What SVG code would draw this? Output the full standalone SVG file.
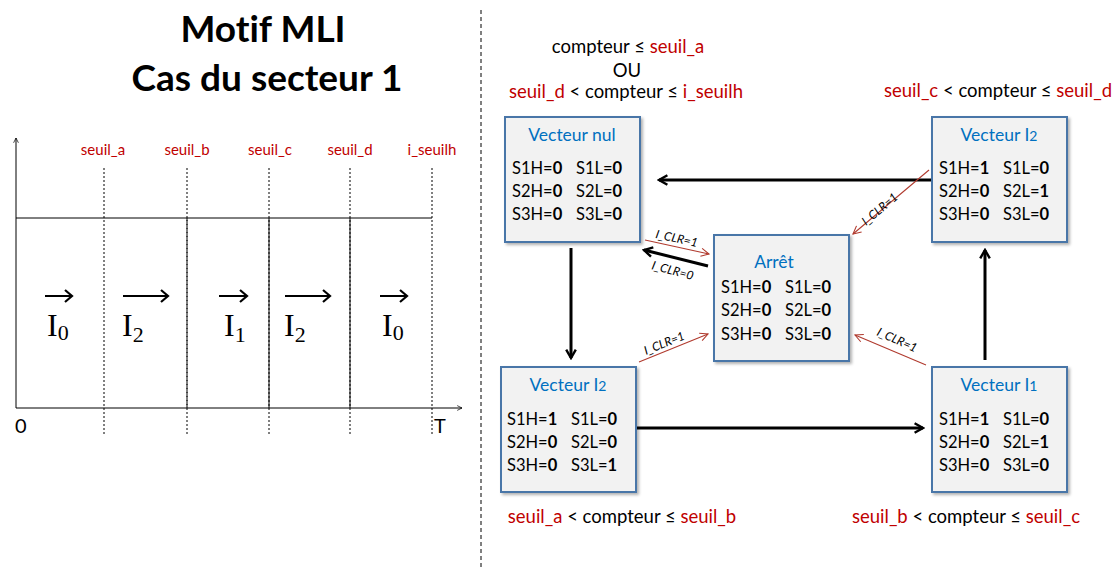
<svg xmlns="http://www.w3.org/2000/svg" width="1120" height="568" viewBox="0 0 1120 568">
<defs>
<marker id="ah" viewBox="0 0 10 10" refX="8" refY="5" markerWidth="4" markerHeight="4" orient="auto" markerUnits="strokeWidth"><path d="M1,1 L8,5 L1,9" fill="none" stroke="#000" stroke-width="2"/></marker>
<marker id="ar" viewBox="0 0 10 10" refX="9" refY="5" markerWidth="9" markerHeight="9" orient="auto" markerUnits="strokeWidth"><path d="M1,1 L9,5 L1,9" fill="none" stroke="#b03a2e" stroke-width="1.1"/></marker>
<marker id="ax" viewBox="0 0 10 10" refX="9" refY="5" markerWidth="6" markerHeight="6" orient="auto"><path d="M1,1 L9,5 L1,9" fill="none" stroke="#000" stroke-width="1.2"/></marker>
<filter id="sh" x="-10%" y="-10%" width="130%" height="130%"><feDropShadow dx="2" dy="2" stdDeviation="1.5" flood-color="#000" flood-opacity="0.3"/></filter>
</defs>
<style>
text{font-family:Lato,"Open Sans","Liberation Sans",sans-serif;fill:#000;font-variant-ligatures:none}
.t{font-size:37px;font-weight:bold;text-anchor:middle}
.sl{font-size:15px;fill:#c00000;text-anchor:middle}
.ax{font-size:20px}
.v{font-family:"Liberation Serif",serif;font-size:32px}
.vs{font-family:"Liberation Serif",serif;font-size:22px}
.box{fill:#f2f2f2;stroke:#4a76a8;stroke-width:2;filter:url(#sh)}
.bt{font-size:17.5px;fill:#0070c0;text-anchor:middle}
.r{font-size:16.5px}
.r tspan.b{font-weight:bold}
.c{font-size:18.5px;text-anchor:middle}
.red{fill:#c00000}
.lbl{font-size:12px;font-style:italic}
.dot{stroke:#000;stroke-width:1;stroke-dasharray:2,2;fill:none}
.ln{stroke:#000;stroke-width:1;fill:none}
.big{stroke:#000;stroke-width:3;fill:none;marker-end:url(#ah)}
.rc{stroke:#b03a2e;stroke-width:1.1;fill:none;marker-end:url(#ar)}
</style>

<!-- left panel -->
<g id="titre">
<text class="t" x="263" y="42">Motif MLI</text>
<text class="t" x="267" y="91">Cas du secteur 1</text>
</g>
<line x1="481" y1="10" x2="481" y2="568" stroke="#000" stroke-width="1" stroke-dasharray="4,3"/>

<g id="chronogramme">
<line class="ln" x1="16" y1="408" x2="16" y2="138" marker-end="url(#ax)"/>
<line class="ln" x1="16" y1="408" x2="462" y2="408" marker-end="url(#ax)"/>
<line class="ln" x1="16" y1="218" x2="432" y2="218"/>
<line class="dot" x1="104" y1="168" x2="104" y2="436"/>
<line class="dot" x1="187" y1="168" x2="187" y2="436"/>
<line class="ln" x1="187" y1="218" x2="187" y2="408" stroke-dasharray="3,1"/>
<line class="dot" x1="269" y1="168" x2="269" y2="436"/>
<line class="ln" x1="269" y1="218" x2="269" y2="408"/>
<line class="dot" x1="350" y1="168" x2="350" y2="436"/>
<line class="ln" x1="350" y1="218" x2="350" y2="408"/>
<line class="dot" x1="432" y1="168" x2="432" y2="436"/>
<text class="sl" x="103" y="155">seuil_a</text>
<text class="sl" x="187" y="155">seuil_b</text>
<text class="sl" x="270" y="155">seuil_c</text>
<text class="sl" x="350" y="155">seuil_d</text>
<text class="sl" x="432" y="155">i_seuilh</text>
<text class="ax" x="15" y="433">0</text>
<text class="ax" x="434" y="433">T</text>
<g stroke="#000" stroke-width="2.2" fill="none">
<path d="M45,296 H72 M65,290 L72,296 L65,302"/>
<path d="M123,296 H168 M161,290 L168,296 L161,302"/>
<path d="M219,296 H247 M240,290 L247,296 L240,302"/>
<path d="M285,296 H330 M323,290 L330,296 L323,302"/>
<path d="M380,296 H407 M400,290 L407,296 L400,302"/>
</g>
<text class="v" x="47" y="336">I<tspan class="vs" dy="4">0</tspan></text>
<text class="v" x="122" y="336">I<tspan class="vs" dy="6">2</tspan></text>
<text class="v" x="224" y="336">I<tspan class="vs" dy="6">1</tspan></text>
<text class="v" x="284" y="336">I<tspan class="vs" dy="6">2</tspan></text>
<text class="v" x="382" y="336">I<tspan class="vs" dy="4">0</tspan></text>
</g>

<!-- conditions -->
<g id="conditions">
<text class="c" x="628" y="53">compteur ≤ <tspan class="red">seuil_a</tspan></text>
<text class="c" x="627" y="77">OU</text>
<text class="c" x="626" y="98"><tspan class="red">seuil_d</tspan> &lt; compteur  ≤ <tspan class="red">i_seuilh</tspan></text>
<text class="c" x="998" y="97"><tspan class="red">seuil_c</tspan> &lt; compteur  ≤ <tspan class="red">seuil_d</tspan></text>
<text class="c" x="622" y="523"><tspan class="red">seuil_a</tspan> &lt; compteur ≤ <tspan class="red">seuil_b</tspan></text>
<text class="c" x="966" y="523"><tspan class="red">seuil_b</tspan> &lt; compteur ≤ <tspan class="red">seuil_c</tspan></text>
</g>

<!-- connectors -->
<g id="connecteurs">
<line class="big" x1="932" y1="180" x2="659" y2="180"/>
<line class="big" x1="571" y1="248" x2="571" y2="358"/>
<line class="big" x1="636" y1="428" x2="923" y2="428"/>
<line class="big" x1="985" y1="360" x2="985" y2="250"/>
<line class="big" x1="708" y1="266" x2="644" y2="250"/>
<line class="rc" x1="645" y1="240" x2="709" y2="254"/>
<line class="rc" x1="929" y1="170" x2="853" y2="234"/>
<line class="rc" x1="639" y1="362" x2="708" y2="334"/>
<line class="rc" x1="926" y1="365" x2="855" y2="335"/>
<text class="lbl" transform="translate(655,238) rotate(12)">I_CLR=1</text>
<text class="lbl" transform="translate(651,269) rotate(15)">I_CLR=0</text>
<text class="lbl" transform="translate(866,226) rotate(-40)">I_CLR=1</text>
<text class="lbl" transform="translate(646,355) rotate(-22)">I_CLR=1</text>
<text class="lbl" transform="translate(876,335) rotate(24)">I_CLR=1</text>
</g>

<g id="vecteur-nul">
<rect class="box" x="505" y="117" width="135" height="125"/>
<text class="bt" x="572" y="141">Vecteur nul</text>
<text class="r" x="512" y="174">S1H=<tspan class="b">0</tspan></text><text class="r" x="576" y="174">S1L=<tspan class="b">0</tspan></text>
<text class="r" x="512" y="197">S2H=<tspan class="b">0</tspan></text><text class="r" x="576" y="197">S2L=<tspan class="b">0</tspan></text>
<text class="r" x="512" y="220">S3H=<tspan class="b">0</tspan></text><text class="r" x="576" y="220">S3L=<tspan class="b">0</tspan></text>
</g>

<g id="vecteur-I2-haut">
<rect class="box" x="932" y="117" width="135" height="125"/>
<text class="bt" x="999" y="141">Vecteur I<tspan font-size="14">2</tspan></text>
<text class="r" x="939" y="174">S1H=<tspan class="b">1</tspan></text><text class="r" x="1003" y="174">S1L=<tspan class="b">0</tspan></text>
<text class="r" x="939" y="197">S2H=<tspan class="b">0</tspan></text><text class="r" x="1003" y="197">S2L=<tspan class="b">1</tspan></text>
<text class="r" x="939" y="220">S3H=<tspan class="b">0</tspan></text><text class="r" x="1003" y="220">S3L=<tspan class="b">0</tspan></text>
</g>

<g id="arret">
<rect class="box" x="714" y="235" width="135" height="126"/>
<text class="bt" x="774" y="268">Arrêt</text>
<text class="r" x="721" y="293">S1H=<tspan class="b">0</tspan></text><text class="r" x="785" y="293">S1L=<tspan class="b">0</tspan></text>
<text class="r" x="721" y="316">S2H=<tspan class="b">0</tspan></text><text class="r" x="785" y="316">S2L=<tspan class="b">0</tspan></text>
<text class="r" x="721" y="340">S3H=<tspan class="b">0</tspan></text><text class="r" x="785" y="340">S3L=<tspan class="b">0</tspan></text>
</g>

<g id="vecteur-I2-bas">
<rect class="box" x="501" y="367" width="135" height="125"/>
<text class="bt" x="568" y="391">Vecteur I<tspan font-size="14">2</tspan></text>
<text class="r" x="507" y="425">S1H=<tspan class="b">1</tspan></text><text class="r" x="571" y="425">S1L=<tspan class="b">0</tspan></text>
<text class="r" x="507" y="448">S2H=<tspan class="b">0</tspan></text><text class="r" x="571" y="448">S2L=<tspan class="b">0</tspan></text>
<text class="r" x="507" y="471">S3H=<tspan class="b">0</tspan></text><text class="r" x="571" y="471">S3L=<tspan class="b">1</tspan></text>
</g>

<g id="vecteur-I1">
<rect class="box" x="932" y="367" width="135" height="125"/>
<text class="bt" x="999" y="391">Vecteur I<tspan font-size="14">1</tspan></text>
<text class="r" x="939" y="425">S1H=<tspan class="b">1</tspan></text><text class="r" x="1003" y="425">S1L=<tspan class="b">0</tspan></text>
<text class="r" x="939" y="448">S2H=<tspan class="b">0</tspan></text><text class="r" x="1003" y="448">S2L=<tspan class="b">1</tspan></text>
<text class="r" x="939" y="471">S3H=<tspan class="b">0</tspan></text><text class="r" x="1003" y="471">S3L=<tspan class="b">0</tspan></text>
</g>
</svg>
